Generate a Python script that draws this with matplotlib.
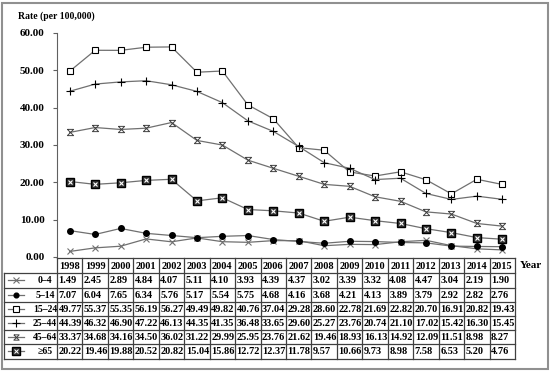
import matplotlib.pyplot as plt
from matplotlib.path import Path
from matplotlib.patches import Rectangle
from matplotlib.lines import Line2D

plt.rcParams['font.family'] = ['Liberation Serif', 'DejaVu Serif']
plt.rcParams['font.weight'] = 'bold'

years = list(range(1998, 2016))
groups = ['0–4', '5–14', '15–24', '25–44', '45–64', '≥65']

rate_0_4 = [1.49, 2.45, 2.89, 4.84, 4.07, 5.11, 4.10, 3.93, 4.39, 4.37, 3.02, 3.39, 3.32, 4.08, 4.47, 3.04, 2.19, 1.90]
rate_5_14 = [7.07, 6.04, 7.65, 6.34, 5.76, 5.17, 5.54, 5.75, 4.68, 4.16, 3.68, 4.21, 4.13, 3.89, 3.79, 2.92, 2.82, 2.76]
rate_15_24 = [49.77, 55.37, 55.35, 56.19, 56.27, 49.49, 49.82, 40.76, 37.04, 29.28, 28.60, 22.78, 21.69, 22.82, 20.70, 16.91, 20.82, 19.43]
rate_25_44 = [44.39, 46.32, 46.90, 47.22, 46.13, 44.35, 41.35, 36.48, 33.65, 29.60, 25.27, 23.76, 20.74, 21.10, 17.02, 15.42, 16.30, 15.45]
rate_45_64 = [33.37, 34.68, 34.16, 34.50, 36.02, 31.22, 29.99, 25.95, 23.76, 21.62, 19.46, 18.93, 16.13, 14.92, 12.09, 11.51, 8.98, 8.27]
rate_65 = [20.22, 19.46, 19.88, 20.52, 20.82, 15.04, 15.86, 12.72, 12.37, 11.78, 9.57, 10.66, 9.73, 8.98, 7.58, 6.53, 5.20, 4.76]
series = [rate_0_4, rate_5_14, rate_15_24, rate_25_44, rate_45_64, rate_65]

# hourglass marker for 45-64
hourglass = Path([(-1, 1), (1, 1), (-1, -1), (1, -1), (-1, 1)],
                 [Path.MOVETO, Path.LINETO, Path.LINETO, Path.LINETO, Path.LINETO])

styles = [
    dict(marker='x', ms=5, mec='#707070', mew=0.8),
    dict(marker='o', ms=4, mec='black', mfc='black'),
    dict(marker='s', ms=5, mec='black', mfc='white', mew=0.8),
    dict(marker='+', ms=6, mec='black', mew=0.8),
    dict(marker=hourglass, ms=4.5, mec='#404040', mfc='none', mew=0.7),
    dict(marker='s', ms=6, mec='black', mfc='#333333'),
]
line_col = '#707070'

W, H = 550, 373
fig = plt.figure(figsize=(5.5, 3.73), dpi=100)

# outer frame
fig.patches.append(Rectangle((1.5 / W, 4 / H), 546 / W, 366.5 / H, transform=fig.transFigure,
                             fill=False, edgecolor='#909090', lw=1.5))

ax_left, ax_right = 57, 515
ax = fig.add_axes([ax_left / W, 1 - 257 / H, (ax_right - ax_left) / W, (257 - 33) / H])
x = list(range(len(years)))
for vals, st in zip(series, styles):
    ax.plot(x, vals, color=line_col, lw=0.9, **st)
    if st is styles[5]:
        ax.plot(x, vals, ls='none', marker='x', ms=3.2, mec='white', mew=0.8)
ax.set_xlim(-0.5, len(years) - 0.5)
ax.set_ylim(0, 60)
ax.set_yticks(range(0, 61, 10))
ax.set_yticklabels([f'{v:.2f}' for v in range(0, 61, 10)], fontsize=8, fontweight='bold')
ax.tick_params(axis='y', length=3, width=0.8, color='#606060', pad=6)
ax.set_xticks([])
for s in ['top', 'right', 'bottom']:
    ax.spines[s].set_visible(False)
ax.spines['left'].set_color('#606060')

fig.text(18 / W, 1 - 16 / H, 'Rate (per 100,000)', fontsize=7, fontweight='bold', va='center', ha='left')
fig.text(520 / W, 1 - 265 / H, 'Year', fontsize=8, fontweight='bold', va='center', ha='left')

# data table
t_left, t_top, t_bot = 4, 258, 358.5
lab_w = (ax_left - t_left) / ((ax_right - ax_left) / len(years))
axt = fig.add_axes([t_left / W, 1 - t_bot / H, (ax_right - t_left) / W, (t_bot - t_top) / H])
axt.set_xlim(-0.5 - lab_w, len(years) - 0.5)
axt.set_ylim(t_bot - t_top, 0)
axt.axis('off')
hdr = 15.3
rh = (t_bot - t_top - hdr) / len(groups)
lc = '#404040'
x0 = -0.5 - lab_w
xe = len(years) - 0.5
# horizontal lines
axt.plot([-0.5, xe], [0, 0], color=lc, lw=0.9, clip_on=False)
for i in range(len(groups) + 1):
    y = hdr + i * rh
    axt.plot([x0, xe], [y, y], color=lc, lw=0.9, clip_on=False)
# vertical lines
axt.plot([x0, x0], [hdr, t_bot - t_top], color=lc, lw=0.9, clip_on=False)
for j in range(len(years) + 1):
    axt.plot([j - 0.5, j - 0.5], [0, t_bot - t_top], color=lc, lw=0.9, clip_on=False)
for j, yr in enumerate(years):
    axt.text(j, hdr / 2 + 0.5, str(yr), ha='center', va='center', fontsize=7.5, fontweight='bold')
px = (ax_right - ax_left) / len(years)
for i, (g, vals, st) in enumerate(zip(groups, series, styles)):
    yc = hdr + (i + 0.5) * rh
    for j, v in enumerate(vals):
        axt.text(j - 0.5 + 1.5 / px, yc + 0.5, f'{v:.2f}', ha='left', va='center', fontsize=7.5, fontweight='bold')
    kx0 = x0 + 4 / px
    kx1 = x0 + 20 / px
    axt.add_line(Line2D([kx0, kx1], [yc, yc], color=line_col, lw=0.9))
    mst = dict(st)
    mst['ms'] = mst['ms'] * 0.85
    axt.add_line(Line2D([(kx0 + kx1) / 2], [yc], ls='none', **mst))
    if i == 5:
        axt.add_line(Line2D([(kx0 + kx1) / 2], [yc], ls='none', marker='x', ms=2.8, mec='white', mew=0.7))
    axt.text(x0 + 41 / px, yc + 0.5, g, ha='center', va='center', fontsize=7, fontweight='bold')

fig.savefig('out.png', dpi=100)
